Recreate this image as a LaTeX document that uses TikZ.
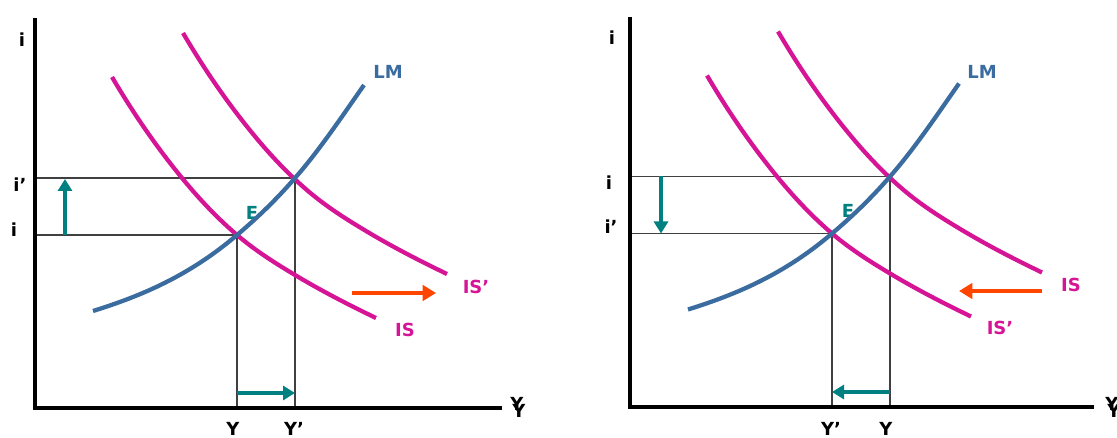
\documentclass[tikz,border=0pt]{standalone}
\usepackage{fontspec}
\setmainfont{DejaVu Sans}
\usetikzlibrary{arrows.meta}
\definecolor{ismag}{RGB}{214,20,150}
\definecolor{lmblue}{RGB}{58,108,160}
\definecolor{tealc}{RGB}{0,128,128}
\definecolor{redor}{RGB}{255,69,0}
\tikzset{
  axisline/.style={line width=3pt, black, line join=miter},
  guide/.style={line width=0.9pt, black!75},
  iscurve/.style={line width=3.2pt, ismag},
  lmcurve/.style={line width=3.2pt, lmblue},
  tealarrow/.style={line width=2.4pt, tealc, -{Triangle[length=9pt,width=10.5pt]}},
  redarrow/.style={line width=3pt, redor, -{Triangle[length=10pt,width=11.5pt]}},
  lbl/.style={font=\bfseries\fontsize{13.5}{15}\selectfont, inner sep=0pt},
}
\begin{document}
\begin{tikzpicture}[x=0.75pt,y=-0.75pt]
\useasboundingbox (0,0) rectangle (1117,438);

% ---------------- left panel ----------------
\begin{scope}
  \coordinate (La) at (35,18);
  \coordinate (LO) at (35,408);
  \coordinate (Lx) at (502,408);
  \coordinate (LE0) at (237,235);
  \coordinate (LE1) at (295,178);
  \coordinate (Lhi) at (35,235);
  \coordinate (Lhi2) at (35,178);
  \coordinate (Lb0) at (237,408);
  \coordinate (Lb1) at (295,408);
  \node[lbl, tealc] (LElbl) at (252,213) {E};
  \draw[guide] (Lhi) -- (LE0) -- (Lb0);
  \draw[guide] (Lhi2) -- (LE1) -- (Lb1);
  \draw[axisline] (La) -- (LO) -- (Lx);
  % IS
  \draw[iscurve] (112,77) .. controls (135.3,116.7) and (158.7,149.6) .. (182,178)
     .. controls (200.3,200.4) and (218.7,219.4) .. (237,235)
     .. controls (256.3,251.4) and (275.7,263.4) .. (295,275)
     .. controls (322,291.2) and (349,305) .. (376,318);
  % IS'
  \begin{scope}[shift={(71,-44)}]
  \draw[iscurve] (112,77) .. controls (135.3,116.7) and (158.7,149.6) .. (182,178)
     .. controls (200.3,200.4) and (218.7,219.4) .. (237,235)
     .. controls (256.3,251.4) and (275.7,263.4) .. (295,275)
     .. controls (322,291.2) and (349,305) .. (376,318);
  \end{scope}
  % LM
  \draw[lmcurve] (93,311) .. controls (141,296) and (189,276) .. (237,235)
     .. controls (256,219) and (276,200) .. (295,178)
     .. controls (318,152) and (341,118) .. (364,85);
  \coordinate (Lua) at (65,235); \coordinate (Lub) at (65,179);
  \draw[tealarrow] (Lua) -- (Lub);
  \coordinate (Lra) at (237,393); \coordinate (Lrb) at (295,393);
  \draw[tealarrow] (Lra) -- (Lrb);
  \coordinate (Lsa) at (352,293); \coordinate (Lsb) at (436,293);
  \draw[redarrow] (Lsa) -- (Lsb);
  \node[lbl] (Liax) at (22,40) {i};
  \node[lbl] (Li2) at (20,185) {i’};
  \node[lbl] (Li1) at (14,230) {i};
  \node[lbl] (LY) at (233,429) {Y};
  \node[lbl] (LY2) at (294,429) {Y’};
  \node[lbl] (LYax1) at (517,404) {Y};
  \node[lbl] (LYax2) at (519,411) {Y};
  \node[lbl, lmblue] (LLM) at (388,72) {LM};
  \node[lbl, ismag] (LIS2) at (476,287) {IS’};
  \node[lbl, ismag] (LIS) at (405,330) {IS};
\end{scope}

% ---------------- right panel ----------------
\begin{scope}[shift={(595,-1.5)}]
  \coordinate (Ra) at (35,18.5);
  \coordinate (RO) at (35,408.5);
  \coordinate (Rx) at (499,408.5);
  \coordinate (RE0) at (237,235);
  \coordinate (RE1) at (295,178);
  \coordinate (Rhi) at (35,235);
  \coordinate (Rhi2) at (35,178);
  \coordinate (Rb0) at (237,408.5);
  \coordinate (Rb1) at (295,408.5);
  \node[lbl, tealc] (RElbl) at (253,212) {E};
  \draw[guide] (Rhi) -- (RE0) -- (Rb0);
  \draw[guide] (Rhi2) -- (RE1) -- (Rb1);
  \draw[axisline] (Ra) -- (RO) -- (Rx);
  % IS' (lower)
  \draw[iscurve] (112,77) .. controls (135.3,116.7) and (158.7,149.6) .. (182,178)
     .. controls (200.3,200.4) and (218.7,219.4) .. (237,235)
     .. controls (256.3,251.4) and (275.7,263.4) .. (295,275)
     .. controls (322,291.2) and (349,305) .. (376,318);
  % IS (upper)
  \begin{scope}[shift={(71,-44)}]
  \draw[iscurve] (112,77) .. controls (135.3,116.7) and (158.7,149.6) .. (182,178)
     .. controls (200.3,200.4) and (218.7,219.4) .. (237,235)
     .. controls (256.3,251.4) and (275.7,263.4) .. (295,275)
     .. controls (322,291.2) and (349,305) .. (376,318);
  \end{scope}
  % LM
  \draw[lmcurve] (93,311) .. controls (141,296) and (189,276) .. (237,235)
     .. controls (256,219) and (276,200) .. (295,178)
     .. controls (318,152) and (341,118) .. (364,85);
  \coordinate (Rua) at (66,178); \coordinate (Rub) at (66,235);
  \draw[tealarrow] (Rua) -- (Rub);
  \coordinate (Rra) at (295,393.5); \coordinate (Rrb) at (237,393.5);
  \draw[tealarrow] (Rra) -- (Rrb);
  \coordinate (Rsa) at (447,292.5); \coordinate (Rsb) at (364,292.5);
  \draw[redarrow] (Rsa) -- (Rsb);
  \node[lbl] (Riax) at (17,39.5) {i};
  \node[lbl] (Ri1) at (14,184.5) {i};
  \node[lbl] (Ri2) at (16,228.5) {i’};
  \node[lbl] (RY2) at (236,430.5) {Y’};
  \node[lbl] (RY) at (291,430.5) {Y};
  \node[lbl] (RYax1) at (517,405.5) {Y};
  \node[lbl] (RYax2) at (519,412.5) {Y};
  \node[lbl, lmblue] (RLM) at (387,73.5) {LM};
  \node[lbl, ismag] (RIS) at (476,286.5) {IS};
  \node[lbl, ismag] (RIS2) at (405,329.5) {IS’};
\end{scope}
\end{tikzpicture}
\end{document}
